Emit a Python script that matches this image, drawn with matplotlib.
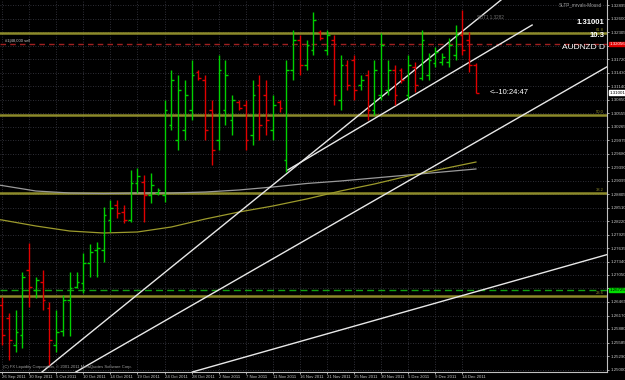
import matplotlib
matplotlib.use("Agg")
import matplotlib.pyplot as plt

# ---------------- data ----------------
date_labels = ["26 Sep 2011", "30 Sep 2011", "5 Oct 2011", "10 Oct 2011", "14 Oct 2011",
               "19 Oct 2011", "24 Oct 2011", "28 Oct 2011", "2 Nov 2011", "7 Nov 2011",
               "11 Nov 2011", "16 Nov 2011", "21 Nov 2011", "25 Nov 2011", "30 Nov 2011",
               "5 Dec 2011", "9 Dec 2011", "14 Dec 2011"]
date_bars = [0, 4, 8, 12, 16, 20, 24, 28, 32, 36, 40, 44, 48, 52, 56, 60, 64, 68]

price_ticks = [1.25000, 1.25290, 1.25585, 1.25880, 1.26170, 1.26465, 1.26760, 1.27050,
               1.27340, 1.27635, 1.27925, 1.28220, 1.28510, 1.28805, 1.29095, 1.29390,
               1.29680, 1.29975, 1.30265, 1.30555, 1.30850, 1.31140, 1.31430, 1.31720,
               1.32010, 1.32305, 1.32600, 1.32895]
# tick labels hidden behind the order-price boxes in the reference
hidden_ticks = [1.26760, 1.32010]

opens = [1.2640, 1.2612, 1.2553, 1.2575, 1.2716, 1.2673, 1.2690, 1.2634, 1.2553, 1.2584,
         1.2651, 1.2679, 1.2688, 1.2731, 1.2759, 1.2759, 1.2824, 1.2857, 1.2842, 1.2824,
         1.2905, 1.2907, 1.2878, 1.2883, 1.2878, 1.3030, 1.2998, 1.3019, 1.3063, 1.3145,
         1.3128, 1.3063, 1.2998, 1.3063, 1.3041, 1.3080, 1.3073, 1.3008, 1.3117, 1.3095,
         1.3019, 1.3080, 1.2954, 1.3149, 1.3214, 1.3160, 1.3193, 1.3232, 1.3193, 1.3214,
         1.3084, 1.3160, 1.3171, 1.3117, 1.3138, 1.3063, 1.3095, 1.3106, 1.3149, 1.3149,
         1.3095, 1.3156, 1.3132, 1.3138, 1.3164, 1.3167, 1.3167, 1.3182, 1.3225, 1.3214,
         1.3160]
highs = [1.2657, 1.2623, 1.2629, 1.2712, 1.2775, 1.2701, 1.2716, 1.2647, 1.2629, 1.2662,
         1.2712, 1.2712, 1.2753, 1.2772, 1.2777, 1.2852, 1.2867, 1.2867, 1.2857, 1.2933,
         1.2937, 1.2922, 1.2926, 1.2894, 1.3084, 1.3149, 1.3138, 1.3128, 1.3171, 1.3149,
         1.3138, 1.3084, 1.3182, 1.3171, 1.3095, 1.3084, 1.3084, 1.3128, 1.3138, 1.3128,
         1.3095, 1.3084, 1.3171, 1.3236, 1.3225, 1.3214, 1.3275, 1.3236, 1.3236, 1.3225,
         1.3182, 1.3171, 1.3182, 1.3138, 1.3149, 1.3171, 1.3229, 1.3171, 1.3160, 1.3154,
         1.3182, 1.3167, 1.3236, 1.3186, 1.3199, 1.3186, 1.3219, 1.3247, 1.3279, 1.3232,
         1.3164]
lows = [1.2553, 1.2521, 1.2538, 1.2547, 1.2636, 1.2655, 1.2629, 1.2510, 1.2538, 1.2573,
        1.2573, 1.2677, 1.2666, 1.2701, 1.2701, 1.2733, 1.2798, 1.2829, 1.2818, 1.2820,
        1.2883, 1.2820, 1.2861, 1.2878, 1.2863, 1.3019, 1.2976, 1.2998, 1.3041, 1.3128,
        1.2998, 1.2943, 1.2976, 1.3030, 1.3008, 1.3063, 1.2976, 1.2987, 1.2998, 1.3008,
        1.2998, 1.3058, 1.2928, 1.3128, 1.3138, 1.3149, 1.3182, 1.3214, 1.3182, 1.3073,
        1.3063, 1.3106, 1.3084, 1.3106, 1.3041, 1.3052, 1.3084, 1.3095, 1.3073, 1.3121,
        1.3084, 1.3102, 1.3128, 1.3128, 1.3156, 1.3160, 1.3156, 1.3171, 1.3182, 1.3145,
        1.3100]
closes = [1.2575, 1.2564, 1.2582, 1.2701, 1.2679, 1.2694, 1.2651, 1.2564, 1.2582, 1.2651,
          1.2677, 1.2690, 1.2731, 1.2755, 1.2764, 1.2835, 1.2850, 1.2839, 1.2824, 1.2905,
          1.2920, 1.2878, 1.2900, 1.2889, 1.3063, 1.3128, 1.3106, 1.3095, 1.3138, 1.3132,
          1.3019, 1.2976, 1.3149, 1.3138, 1.3084, 1.3067, 1.2998, 1.3095, 1.3030, 1.3041,
          1.3073, 1.3067, 1.3149, 1.3214, 1.3160, 1.3203, 1.3258, 1.3219, 1.3225, 1.3095,
          1.3160, 1.3117, 1.3106, 1.3128, 1.3063, 1.3149, 1.3203, 1.3149, 1.3095, 1.3128,
          1.3160, 1.3117, 1.3214, 1.3171, 1.3188, 1.3177, 1.3203, 1.3225, 1.3193, 1.3160,
          1.31001]

ma_bars = [-1, 0, 5, 10, 15, 20, 25, 30, 35, 40, 45, 50, 55, 60, 65, 70]
ma_grey = [1.2901, 1.28989, 1.28870, 1.28827, 1.28816, 1.28827, 1.28827, 1.28848, 1.28892,
           1.28957, 1.29033, 1.29087, 1.29152, 1.29217, 1.29282, 1.29347]
ma_olive = [1.2826, 1.28242, 1.28112, 1.28003, 1.27960, 1.27982, 1.28090, 1.28263, 1.28415,
            1.28545, 1.28697, 1.28870, 1.29022, 1.29195, 1.29347, 1.29498]

fib_prices = [1.32294, 1.30517, 1.28827, 1.26595]
fib_names = ["61.8", "50.0", "38.2", "23.6"]

sell_price = 1.32056
tp_price = 1.26725
bid_price = 1.31001

# trendlines as (bar, price) endpoints
trend_lines = [
    ((5.9, 1.24948), (73.7, 1.33009)),
    ((42.2, 1.29325), (78.3, 1.32467)),
    ((10.9, 1.24948), (91.0, 1.31700)),
    ((28.1, 1.24948), (91.0, 1.27560)),
]

# ---------------- figure ----------------
W, H = 625, 380
fig = plt.figure(figsize=(W / 100, H / 100), dpi=100, facecolor="black")
ax = fig.add_axes([0, 8 / H, 607 / W, 372 / H])
ax.set_facecolor("black")
font = "Liberation Sans"

ax.set_xlim(-0.3, 89.36)
ax.set_ylim(1.24948, 1.33009)

# grid
for b in date_bars:
    ax.axvline(b, color="#3e3e48", lw=0.6, ls=(0, (1, 2)), zorder=0)
for p in price_ticks:
    ax.axhline(p, color="#3e3e48", lw=0.6, ls=(0, (1, 2)), zorder=0)

# moving averages
ax.plot(ma_bars, ma_grey, color="#9a9a9a", lw=0.9, zorder=2)
ax.plot(ma_bars, ma_olive, color="#9c9a2c", lw=0.9, zorder=2)

# fib lines
for p, n in zip(fib_prices, fib_names):
    ax.axhline(p, color="#8c8a2a", lw=1.8, zorder=1)
    ax.text(88.9, p + 0.0002, n, color="#8c8a2a", fontsize=3.0, ha="right",
            va="bottom", family=font)

# order lines
ax.axhline(sell_price, color="#a02020", lw=1.0, ls=(0, (4, 3)), zorder=1)
ax.axhline(tp_price, color="#10a010", lw=1.0, ls=(0, (5, 3)), zorder=1)
ax.text(0.5, sell_price + 0.0003, "#1|48,000 sell", color="#c8c8c8", fontsize=3.0,
        family=font, va="bottom")

# bars
for i, (o, h, l, c) in enumerate(zip(opens, highs, lows, closes)):
    col = "#00d000" if c >= o else "#e00000"
    ax.vlines(i, l, h, color=col, lw=1.0, zorder=4)
    ax.hlines(o, i - 0.4, i, color=col, lw=1.0, zorder=4)
    ax.hlines(c, i, i + 0.4, color=col, lw=1.0, zorder=4)

# trend lines
for (x0, y0), (x1, y1) in trend_lines:
    ax.plot([x0, x1], [y0, y1], color="#e8e8e8", lw=1.0, zorder=3)

# axes styling
for s in ["top", "left"]:
    ax.spines[s].set_visible(False)
ax.spines["right"].set_color("#c0c0c0")
ax.spines["bottom"].set_color("#c0c0c0")
ax.spines["right"].set_linewidth(0.8)
ax.spines["bottom"].set_linewidth(0.8)
ax.yaxis.tick_right()
ax.set_yticks(price_ticks)
ax.set_yticklabels(["" if p in hidden_ticks else f"{p:.5f}" for p in price_ticks])
ax.set_xticks(date_bars)
ax.set_xticklabels(date_labels)
ax.tick_params(axis="y", colors="#c8c8c8", labelsize=3.2, length=1.5, width=0.6, pad=1)
ax.tick_params(axis="x", colors="#c8c8c8", labelsize=3.1, length=1.5, width=0.6, pad=0.8)
for t in ax.get_xticklabels():
    t.set_ha("left")
    t.set_family(font)
for t in ax.get_yticklabels():
    t.set_family(font)

# axis price boxes
def axis_box(price, text, fc, tc):
    ax.text(1.004, price, text, transform=ax.get_yaxis_transform(), fontsize=3.2,
            family=font, color=tc, va="center", ha="left", zorder=10,
            bbox=dict(boxstyle="square,pad=0.1", fc=fc, ec=fc))

axis_box(sell_price, "1.32056", "#e00000", "#ffffff")
axis_box(tp_price, "1.26725", "#00e000", "#000000")
axis_box(bid_price, "1.31001", "#ffffff", "#000000")

# texts
ax.text(88.6, 1.3291, "SLTP_mrvals-Mousd", color="#a0a0a0", fontsize=3.3, family=font,
        ha="right", va="center")
ax.text(70.2, 1.3262, "SBT1 1.3282", color="#707070", fontsize=3.3, family=font,
        ha="left", va="center")
ax.text(89.0, 1.3253, "1.31001", color="white", fontsize=5.6, family=font, ha="right",
        va="center", fontweight="bold")
ax.text(89.0, 1.3225, "10.3", color="white", fontsize=5.6, family=font, ha="right",
        va="center", fontweight="bold")
ax.text(89.0, 1.3197, "AUDNZD D", color="white", fontsize=6.0, family=font, ha="right",
        va="center")
ax.text(72.0, 1.3101, "<--10:24:47", color="white", fontsize=5.5, family=font,
        ha="left", va="center")
ax.text(0.2, 1.2506, "(C) FX Liquidity Corporation, \u00a9 2001-2011 MetaQuotes Software Corp.",
        color="#a0a0a0", fontsize=3.0, family=font, ha="left", va="center")

fig.savefig("out.png", dpi=100, facecolor="black")
